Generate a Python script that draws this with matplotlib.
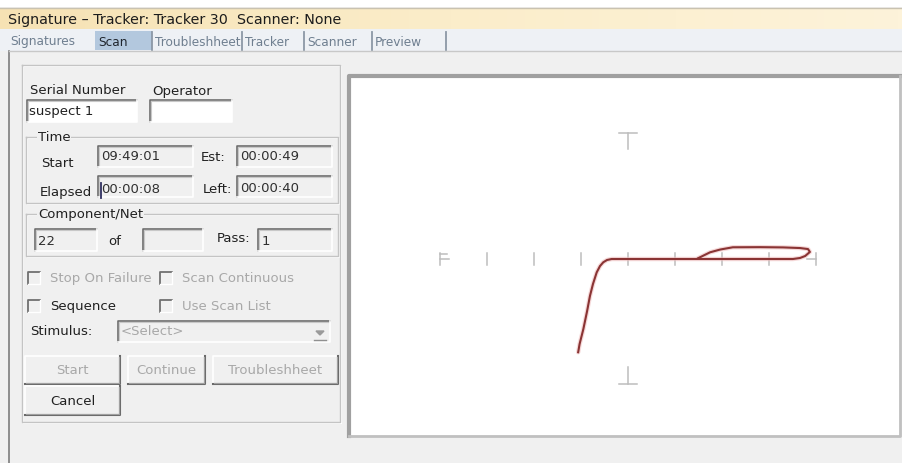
import numpy as np
import matplotlib.pyplot as plt
from matplotlib.patches import Rectangle

plt.rcParams['font.family'] = ['DejaVu Sans']

# window texts
title = 'Signature \u2013 Tracker: Tracker 30  Scanner: None'
tab_labels = ['Signatures', 'Scan', 'Troubleshheet', 'Tracker', 'Scanner', 'Preview']
serial_number = 'suspect 1'
time_start = '09:49:01'
time_est = '00:00:49'
time_elapsed = '00:00:08'
time_left = '00:00:40'
component = '22'
pass_no = '1'

# signature trace (x = volts in tick units, y = current scaled to the caps)
trace_x = [-1.06, -1.03, -0.95, -0.87, -0.81, -0.745, -0.666, -0.596, -0.526,
           -0.447, -0.347, 0.5, 1.5, 2.5, 3.51, 3.66, 3.77, 3.87, 3.83, 3.66,
           3.3, 2.81, 2.23, 1.96, 1.745, 1.49]
trace_y = [-0.74, -0.675, -0.556, -0.413, -0.294, -0.198, -0.106, -0.056, -0.026,
           -0.008, 0.0, 0.0, 0.0, 0.0, 0.0, 0.008, 0.024, 0.056, 0.079, 0.087,
           0.092, 0.094, 0.093, 0.075, 0.053, 0.006]
x_ticks = [-4, -3, -2, -1, 0, 1, 2, 3, 4]

W, H = 902, 464
fig = plt.figure(figsize=(W / 100, H / 100), dpi=100)
fig.patch.set_facecolor('#f0f0f0')

ui = fig.add_axes([0, 0, 1, 1])
ui.set_xlim(0, W)
ui.set_ylim(H, 0)
ui.axis('off')

LIGHT = '#ffffff'
GREY_TXT = '#a8a8a8'
FS = 9.5


def rect(x0, y0, x1, y1, fc, ec='none', lw=1, z=1):
    ui.add_patch(Rectangle((x0, y0), x1 - x0, y1 - y0, facecolor=fc,
                           edgecolor=ec, linewidth=lw, zorder=z))


def sunken(x0, y0, x1, y1, fc='#f0f0f0'):
    rect(x0, y0, x1, y1, fc)
    ui.plot([x0, x0, x1], [y1, y0, y0], color='#6e6e6e', lw=1.2, zorder=2)
    ui.plot([x0 + 1, x0 + 1, x1 - 1], [y1 - 1, y0 + 1, y0 + 1], color='#c8c8c8', lw=0.8, zorder=2)
    ui.plot([x0, x1, x1], [y1, y1, y0], color=LIGHT, lw=1.2, zorder=2)


def raised(x0, y0, x1, y1):
    rect(x0, y0, x1, y1, '#f0f0f0')
    ui.plot([x0, x0, x1], [y1, y0, y0], color=LIGHT, lw=1.2, zorder=2)
    ui.plot([x0, x1, x1], [y1, y1, y0], color='#6a6a6a', lw=1.5, zorder=2)
    ui.plot([x0 + 1, x1 - 1.5, x1 - 1.5], [y1 - 1.5, y1 - 1.5, y0 + 1], color='#a0a0a0', lw=0.8, zorder=2)


def group(x0, y0, x1, y1, label):
    ui.plot([x0, x1, x1, x0, x0], [y0, y0, y1, y1, y0], color='#c4c4c4', lw=1, zorder=2)
    ui.plot([x0 + 1, x1 + 1, x1 + 1, x0 + 1, x0 + 1], [y0 + 1, y0 + 1, y1 + 1, y1 + 1, y0 + 1],
            color=LIGHT, lw=0.8, zorder=1.5)
    if label:
        ui.text(x0 + 12, y0, label, fontsize=FS, va='center', ha='left', color='#202020',
                zorder=3, bbox=dict(facecolor='#f0f0f0', edgecolor='none', pad=0.5))


def checkbox(x, y, label, enabled):
    rect(x, y - 6, x + 12, y + 6, '#f0f0f0')
    ui.plot([x, x, x + 12], [y + 6, y - 6, y - 6], color='#707070', lw=1.3, zorder=2)
    ui.plot([x, x + 12, x + 12], [y + 6, y + 6, y - 6], color=LIGHT, lw=1, zorder=2)
    ui.text(x + 22, y, label, fontsize=FS, va='center', color='#202020' if enabled else GREY_TXT)


# white strip, title bar and tab row
rect(0, 0, W, 8, '#ffffff')
grad = np.linspace(0, 1, 256).reshape(1, -1)
ui.imshow(grad, extent=(0, W, 30, 9), cmap=plt.matplotlib.colors.LinearSegmentedColormap.from_list(
    'tb', ['#f6e2b4', '#fbedca', '#fdf3da']), aspect='auto', zorder=1)
ui.plot([0, W], [8.5, 8.5], color='#c9c2b0', lw=1)
ui.text(8, 20, title, fontsize=10.3, va='center', ha='left', color='#1c1c1c')

rect(0, 30, W, 52, '#eef1f5')
tab_x = [8, 95, 152, 242, 304, 372, 446]
for i, lab in enumerate(tab_labels):
    x0, x1 = tab_x[i], tab_x[i + 1]
    if lab == 'Scan':
        rect(x0, 32, x1, 51, '#b3c8de')
    ui.text(x0 + 3 if i else 10, 42, lab, fontsize=8.7, va='center', ha='left',
            color='#20262e' if lab == 'Scan' else '#6f7f90')
    if i >= 1:
        ui.plot([x1, x1], [33, 51], color='#8c98a6', lw=1.3)

# window border
ui.plot([8.5, 8.5], [52, H], color='#7c7c7c', lw=1.2)
ui.plot([8.5, W], [52, 52], color='#c8c8c8', lw=1)

# left panel
group(22, 66, 340, 423, None)
ui.text(30, 91, 'Serial Number', fontsize=FS, va='center', color='#202020')
ui.text(152, 91, 'Operator', fontsize=FS, va='center', color='#202020')
sunken(27, 101, 137, 123, fc='#ffffff')
sunken(150, 101, 232, 123, fc='#ffffff')
ui.text(29, 112, serial_number, fontsize=FS, va='center', color='#202020', zorder=3)

group(26, 138, 338, 204, 'Time')
ui.text(41, 164, 'Start', fontsize=FS, va='center', color='#202020')
sunken(98, 147, 193, 168)
ui.text(101, 157, time_start, fontsize=FS, va='center', color='#303030', zorder=3)
ui.text(201, 158, 'Est:', fontsize=FS, va='center', color='#202020')
sunken(237, 147, 332, 168)
ui.text(240, 157, time_est, fontsize=FS, va='center', color='#303030', zorder=3)
ui.text(40, 193, 'Elapsed', fontsize=FS, va='center', color='#202020')
sunken(98, 177, 193, 198)
ui.plot([101, 101], [184, 199], color='#303060', lw=1.3, zorder=4)
ui.text(101, 190, time_elapsed, fontsize=FS, va='center', color='#303030', zorder=3)
ui.text(203, 190, 'Left:', fontsize=FS, va='center', color='#202020')
sunken(237, 177, 332, 198)
ui.text(240, 189, time_left, fontsize=FS, va='center', color='#303030', zorder=3)

group(26, 215, 338, 257, 'Component/Net')
sunken(35, 230, 97, 252)
ui.text(38, 242, component, fontsize=FS, va='center', color='#303030', zorder=3)
ui.text(108, 242, 'of', fontsize=FS, va='center', color='#202020')
sunken(143, 230, 203, 252)
ui.text(217, 239, 'Pass:', fontsize=FS, va='center', color='#202020')
sunken(258, 230, 332, 252)
ui.text(262, 242, pass_no, fontsize=FS, va='center', color='#303030', zorder=3)

checkbox(28, 279, 'Stop On Failure', False)
checkbox(160, 279, 'Scan Continuous', False)
checkbox(28, 307, 'Sequence', True)
checkbox(160, 307, 'Use Scan List', False)

ui.text(30, 332, 'Stimulus:', fontsize=FS, va='center', color='#202020')
sunken(118, 322, 330, 343)
ui.text(121, 332, '<Select>', fontsize=FS, va='center', color=GREY_TXT, zorder=3)
ui.plot([314, 326], [341, 341], color='#909090', lw=1, zorder=3)
ui.fill([316, 324, 320], [332, 332, 336], color='#9a9a9a', zorder=3)

buttons = [(25, 357, 120, 385, 'Start', False), (128, 357, 205, 385, 'Continue', False),
           (213, 357, 338, 385, 'Troubleshheet', False), (25, 387, 120, 416, 'Cancel', True)]
for x0, y0, x1, y1, lab, en in buttons:
    raised(x0, y0, x1, y1)
    ui.text((x0 + x1) / 2, (y0 + y1) / 2, lab, fontsize=FS, va='center', ha='center',
            color='#202020' if en else GREY_TXT, zorder=3)

# plot frame
rect(348, 76, 900, 437, '#ffffff', z=0.5)
ui.plot([349, 349, 900], [437, 77, 77], color='#a0a0a0', lw=3, zorder=2)
ui.plot([349, 900, 900], [437, 437, 77], color='#c0c0c0', lw=2, zorder=2)

# signature plot area: 0 at pixel (628, 260), 47 px per x unit, 126 px per y unit
L, R, T, B = 352, 897, 80, 434
ax = fig.add_axes([L / W, 1 - B / H, (R - L) / W, (B - T) / H])
ax.set_xlim((L - 628) / 47, (R - 628) / 47)
ax.set_ylim((260 - B) / 126, (260 - T) / 126)
ax.axis('off')

tick_c = '#bdbdbd'
for xt in x_ticks:
    ax.plot([xt, xt], [-0.05, 0.05], color=tick_c, lw=1.1)
ax.plot([-4, -3.8], [0.0, 0.0], color=tick_c, lw=1.1)
ax.plot([-4, -3.85], [0.04, 0.04], color=tick_c, lw=1.1)
ax.plot([4, 3.8], [0.0, 0.0], color=tick_c, lw=1.1)
ax.plot([-0.19, 0.19], [1.0, 1.0], color=tick_c, lw=1.1)
ax.plot([0, 0], [1.0, 0.87], color=tick_c, lw=1.1)
ax.plot([-0.19, 0.19], [-0.99, -0.99], color=tick_c, lw=1.1)
ax.plot([0, 0], [-0.99, -0.86], color=tick_c, lw=1.1)

ax.plot(trace_x, trace_y, color='#f0c0c0', lw=3.2, solid_capstyle='round', alpha=0.6)
ax.plot(trace_x, trace_y, color='#8a3434', lw=1.5, solid_joinstyle='round')

fig.savefig('out.png', dpi=100, facecolor=fig.get_facecolor())
